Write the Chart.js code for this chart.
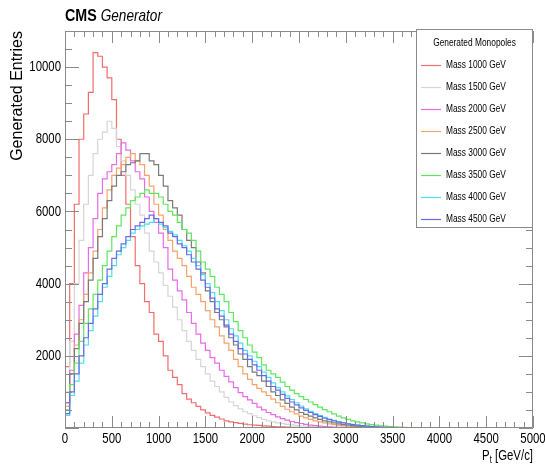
<!DOCTYPE html>
<html>
<head>
<meta charset="utf-8">
<script src="https://cdn.jsdelivr.net/npm/chart.js@4.4.1/dist/chart.umd.min.js"></script>
<style>
  body { margin: 0; background: #fff; }
  canvas { display: block; }
</style>
</head>
<body>
<canvas id="chart" width="545" height="465"></canvas>
<script>
// bin width of the pt histograms, in GeV
const binWidth = 50;

const labels = ['Mass 1000 GeV', 'Mass 1500 GeV', 'Mass 2000 GeV', 'Mass 2500 GeV',
                'Mass 3000 GeV', 'Mass 3500 GeV', 'Mass 4000 GeV', 'Mass 4500 GeV'];
const colors = ['#f26d6d', '#d6d6d6', '#e86be8', '#f5a36b',
                '#7a7a7a', '#5fe65f', '#4de0e8', '#6a6ae8'];

// entries per bin, starting at 0 GeV
const m1000 = [1700, 4000, 6200, 8000, 8700, 9300, 10400, 10300, 10000, 9700,
  9100, 8000, 7000, 6200, 5300, 4500, 4000, 3500, 3200, 2600,
  2400, 2000, 1600, 1400, 1200, 950, 800, 700, 600, 500,
  420, 350, 300, 250, 200, 170, 150, 130, 110, 90,
  80, 70, 60, 50, 40, 35, 30, 25, 20, 15,
  12, 10, 8, 6, 5, 4, 3, 2, 1, 0];
const m1500 = [1000, 2400, 4000, 5200, 6200, 7000, 7600, 8000, 8200, 8500,
  8300, 7800, 7400, 7000, 6600, 6200, 5900, 5400, 4900, 4600,
  4300, 3950, 3650, 3350, 3000, 2700, 2400, 2150, 1900, 1700,
  1500, 1300, 1150, 1000, 850, 720, 620, 530, 450, 400,
  340, 290, 240, 200, 170, 140, 120, 100, 85, 70,
  60, 50, 40, 33, 27, 22, 18, 14, 11, 8,
  6, 4, 3, 2, 1, 0];
const m2000 = [700, 1600, 2600, 3400, 4300, 5000, 5800, 6500, 6900, 7100,
  7300, 7600, 7900, 7700, 7400, 7100, 6900, 6400, 6000, 5700,
  5400, 5000, 4400, 4100, 3800, 3550, 3200, 2900, 2600, 2350,
  2150, 1950, 1800, 1600, 1430, 1280, 1120, 980, 870, 780,
  680, 580, 500, 430, 370, 310, 260, 220, 180, 150,
  125, 100, 82, 66, 53, 42, 33, 26, 20, 15,
  11, 8, 6, 4, 3, 2, 1, 0];
const m2500 = [600, 1500, 2300, 3000, 3700, 4300, 4900, 5500, 6100, 6600,
  7000, 7200, 7300, 7500, 7600, 7400, 7300, 7000, 6700, 6200,
  5900, 5500, 5200, 4900, 4700, 4500, 4200, 3900, 3700, 3500,
  3250, 3000, 2800, 2550, 2350, 2150, 1900, 1700, 1500, 1350,
  1200, 1100, 1000, 900, 800, 700, 600, 520, 450, 390,
  330, 280, 240, 200, 170, 140, 115, 95, 75, 60,
  48, 38, 30, 23, 17, 12, 9, 6, 4, 3, 2, 1, 0];
const m3000 = [700, 1500, 2200, 2900, 3500, 4100, 4700, 5300, 5800, 6300,
  6700, 7000, 7100, 7300, 7350, 7400, 7600, 7600, 7400, 7300,
  7000, 6700, 6300, 6100, 5900, 5500, 5200, 5000, 4600, 4300,
  3800, 3500, 3200, 3000, 2800, 2500, 2300, 2050, 1900, 1700,
  1550, 1450, 1300, 1150, 1000, 900, 780, 680, 580, 500,
  430, 380, 330, 280, 240, 200, 170, 140, 115, 95,
  80, 65, 50, 40, 30, 24, 18, 13, 9, 6, 4, 2, 1, 0];
const m3500 = [500, 1200, 1800, 2400, 2900, 3300, 3700, 4100, 4500, 4900,
  5300, 5600, 5900, 6100, 6300, 6400, 6500, 6600, 6500, 6500,
  6400, 6200, 6000, 5900, 5700, 5500, 5400, 5200, 4900, 4600,
  4400, 4200, 3900, 3700, 3500, 3200, 2950, 2700, 2500, 2300,
  2100, 1950, 1750, 1600, 1500, 1400, 1270, 1150, 1050, 950,
  870, 790, 720, 650, 580, 510, 450, 390, 330, 280,
  240, 200, 170, 140, 115, 95, 78, 62, 50, 40,
  30, 23, 17, 12, 8, 5, 3, 2, 1, 0];
const m4000 = [350, 900, 1300, 1800, 2300, 2700, 3100, 3500, 3900, 4200,
  4500, 4800, 5000, 5200, 5400, 5500, 5600, 5650, 5700, 5800,
  5650, 5550, 5450, 5350, 5200, 5050, 4900, 4700, 4500, 4250,
  4000, 3750, 3500, 3250, 3000, 2750, 2550, 2350, 2150, 2000,
  1850, 1700, 1550, 1400, 1250, 1120, 1000, 890, 790, 700,
  610, 530, 460, 400, 345, 295, 250, 210, 175, 145,
  120, 100, 82, 67, 54, 43, 34, 27, 21, 16,
  12, 9, 7, 5, 3, 2, 1, 0];
const m4500 = [400, 1000, 1500, 2000, 2500, 2900, 3300, 3700, 4000, 4400,
  4700, 4900, 5100, 5300, 5500, 5600, 5700, 5800, 5900, 5800,
  5700, 5600, 5400, 5300, 5100, 5000, 4800, 4600, 4400, 4100,
  3900, 3600, 3300, 3100, 2850, 2600, 2400, 2200, 2050, 1900,
  1750, 1600, 1450, 1300, 1150, 1050, 930, 820, 720, 640,
  560, 490, 430, 370, 320, 270, 230, 195, 165, 140,
  115, 95, 78, 64, 52, 42, 34, 27, 21, 16,
  12, 9, 7, 5, 4, 3, 2, 2, 1, 1, 0];

const series = [m1000, m1500, m2000, m2500, m3000, m3500, m4000, m4500];

const xTicks = [0, 500, 1000, 1500, 2000, 2500, 3000, 3500, 4000, 4500, 5000];
const yTicks = [2000, 4000, 6000, 8000, 10000];

const sans = "'Liberation Sans', Arial, Helvetica, sans-serif";
const squeeze = 0.76;   // the original uses a narrow Helvetica
const frameColor = '#8a8a8a';

// histogram points at the low edge of every bin, plus the closing edge
function toSteps(vals) {
  const pts = vals.map((v, i) => ({ x: i * binWidth, y: v }));
  pts.push({ x: vals.length * binWidth, y: vals[vals.length - 1] });
  return pts;
}

// condensed text
function text(ctx, str, x, y, font, align, base, sx) {
  ctx.save();
  ctx.font = font;
  ctx.textAlign = align;
  ctx.textBaseline = base;
  ctx.translate(x, y);
  ctx.scale(sx || squeeze, 1);
  ctx.fillText(str, 0, 0);
  ctx.restore();
}
function textWidth(ctx, str, font, sx) {
  ctx.save();
  ctx.font = font;
  const w = ctx.measureText(str).width * (sx || squeeze);
  ctx.restore();
  return w;
}

// ROOT style frame with ticks on all four sides, drawn inward
const rootFrame = {
  id: 'rootFrame',
  afterDatasetsDraw(chart) {
    const { ctx, chartArea: a, scales: { x, y } } = chart;
    ctx.save();
    ctx.strokeStyle = frameColor;
    ctx.lineWidth = 1;
    ctx.beginPath();
    ctx.rect(a.left + 0.5, a.top + 0.5, a.right - a.left - 1, a.bottom - a.top - 1);
    for (let v = 0; v <= 5000; v += 100) {
      const px = Math.round(x.getPixelForValue(v)) + 0.5;
      const len = v % 500 === 0 ? 12 : 6;
      ctx.moveTo(px, a.bottom); ctx.lineTo(px, a.bottom - len);
      ctx.moveTo(px, a.top); ctx.lineTo(px, a.top + len);
    }
    for (let v = 0; v <= 11000; v += 500) {
      const py = Math.round(y.getPixelForValue(v)) + 0.5;
      const len = v % 2000 === 0 ? 14 : 7;
      ctx.moveTo(a.left, py); ctx.lineTo(a.left + len, py);
      ctx.moveTo(a.right, py); ctx.lineTo(a.right - len, py);
    }
    ctx.stroke();
    ctx.restore();
  },
  afterDraw(chart) {
    const { ctx, chartArea: a, scales: { x, y } } = chart;
    ctx.save();
    ctx.fillStyle = '#000';

    // tick labels
    const tickFont = '15px ' + sans;
    x.ticks.forEach(t => text(ctx, String(t.value), x.getPixelForValue(t.value), 439, tickFont, 'center', 'middle'));
    y.ticks.forEach(t => text(ctx, String(t.value), a.left - 4, y.getPixelForValue(t.value), tickFont, 'right', 'middle'));

    // title
    const bold = 'bold 17px ' + sans;
    text(ctx, 'CMS', a.left, 21, bold, 'left', 'alphabetic', 0.84);
    const w = textWidth(ctx, 'CMS ', bold, 0.84);
    text(ctx, 'Generator', a.left + w, 21, 'italic 17px ' + sans, 'left', 'alphabetic', 0.8);

    // x axis title P_t [GeV/c], right aligned
    const big = '15px ' + sans, small = '10px ' + sans;
    const rest = ' [GeV/c]';
    const wRest = textWidth(ctx, rest, big);
    const wt = textWidth(ctx, 't', small);
    const wp = textWidth(ctx, 'P', big);
    text(ctx, rest, a.right - wRest, 460, big, 'left', 'alphabetic');
    text(ctx, 't', a.right - wRest - wt, 463, small, 'left', 'alphabetic');
    text(ctx, 'P', a.right - wRest - wt - wp, 460, big, 'left', 'alphabetic');

    // legend box inside the frame
    const bx = 416, by = a.top - 2, bw = a.right - 416, bh = 228 - by;
    ctx.fillStyle = '#fff';
    ctx.fillRect(bx, by, bw, bh);
    ctx.strokeStyle = frameColor;
    ctx.lineWidth = 1;
    ctx.strokeRect(bx + 0.5, by + 0.5, bw - 1, bh - 1);
    ctx.fillStyle = '#000';
    const legFont = '11px ' + sans;
    text(ctx, 'Generated Monopoles', bx + bw / 2, 43, legFont, 'center', 'middle');
    chart.data.datasets.forEach((ds, i) => {
      const ly = 65 + i * 22;
      ctx.strokeStyle = ds.borderColor;
      ctx.lineWidth = 1.2;
      ctx.beginPath();
      ctx.moveTo(421, ly + 0.5);
      ctx.lineTo(441, ly + 0.5);
      ctx.stroke();
      text(ctx, ds.label, 446, ly, legFont, 'left', 'middle');
    });
    ctx.restore();
  }
};

new Chart(document.getElementById('chart'), {
  type: 'line',
  data: {
    datasets: series.map((vals, i) => ({
      label: labels[i],
      data: toSteps(vals),
      borderColor: colors[i],
      borderWidth: 1.2,
      pointRadius: 0,
      stepped: 'before',
      fill: false,
      order: series.length - i
    }))
  },
  options: {
    responsive: false,
    animation: false,
    layout: { padding: { left: 0, top: 31, right: 12, bottom: 0 } },
    plugins: {
      legend: { display: false },
      tooltip: { enabled: false }
    },
    scales: {
      x: {
        type: 'linear',
        min: 0,
        max: 5000,
        afterFit(scale) { scale.height = 37; },
        afterBuildTicks(scale) { scale.ticks = xTicks.map(v => ({ value: v })); },
        grid: { display: false, drawTicks: false },
        border: { display: false },
        ticks: { display: false }
      },
      y: {
        min: 0,
        max: 11000,
        afterFit(scale) { scale.width = 65; },
        afterBuildTicks(scale) { scale.ticks = yTicks.map(v => ({ value: v })); },
        grid: { display: false, drawTicks: false },
        border: { display: false },
        ticks: { display: false },
        title: {
          display: true,
          text: 'Generated Entries',
          align: 'end',
          color: '#000',
          padding: { top: 8, bottom: 0 },
          font: { family: sans, size: 16 }
        }
      }
    }
  },
  plugins: [rootFrame]
});
</script>
</body>
</html>
